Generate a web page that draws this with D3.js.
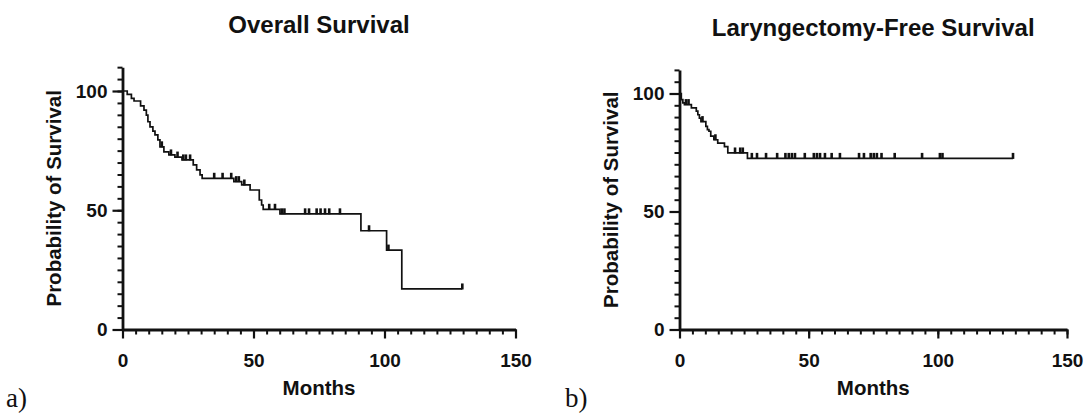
<!DOCTYPE html>
<html lang="en">
<head>
<meta charset="UTF-8">
<title>Overall and Laryngectomy-Free Survival</title>
<style>
  body { margin: 0; background: #fff; }
  svg text { font-family: 'Liberation Sans', Arial, sans-serif; font-weight: bold; fill: #111; }
  svg .tag { font-family: 'Liberation Serif', 'Times New Roman', serif; font-weight: normal; }
  .axis path, .axis line { stroke: #111; }
</style>
</head>
<body>
<svg id="chart" width="1088" height="413"></svg>
<script src="https://d3js.org/d3.v7.min.js"></script>
<script>
// Overall survival: months where the curve steps, % surviving after the step
const osTimes = [0, 1.8, 3.4, 4.4, 6.9, 8.2, 9.1, 9.7, 10.5, 11.6, 12.4, 13.5, 14.3, 15.8, 17.7, 20.0, 22.7,
                 27.0, 28.3, 29.6, 30.4, 42.5, 45.5, 48.7, 52.2, 53.1, 53.7, 60.1, 91.0, 100.8, 106.6];
const osSurv  = [100, 98.6, 96.9, 95.8, 93.8, 92.0, 89.9, 87.1, 85.0, 83.2, 81.6, 79.5, 76.6, 74.5, 73.2, 72.3, 71.1,
                 69.0, 66.9, 64.8, 63.4, 62.0, 60.6, 58.5, 54.3, 52.2, 50.4, 48.5, 41.4, 33.3, 17.0];
const osCensored = [15.0, 18.5, 21.0, 23.2, 24.2, 25.8, 35.0, 38.2, 41.5, 43.4, 44.4, 46.5, 56.0, 58.2, 60.8, 61.8,
                    69.7, 71.2, 74.1, 75.6, 77.3, 78.9, 83.0, 94.1, 101.5, 129.7];

// Laryngectomy-free survival
const lfsTimes = [0, 0.7, 1.3, 1.9, 4.6, 6.5, 7.1, 7.7, 8.3, 10.2, 10.8, 11.4, 12.1, 13.3, 14.8, 17.4, 18.7, 26.3];
const lfsSurv  = [100, 97.4, 96.0, 95.3, 93.9, 92.5, 91.0, 89.6, 88.1, 86.1, 84.7, 84.0, 81.9, 80.4, 79.0, 77.5, 74.8, 72.5];
const lfsCensored = [2.5, 3.5, 8.9, 13.9, 21.5, 23.5, 24.5, 28.0, 30.0, 33.5, 37.8, 41.0, 42.3, 43.5, 44.7, 48.5,
                     52.0, 53.2, 54.4, 56.3, 58.9, 62.1, 69.5, 71.4, 74.0, 75.2, 76.4, 78.2, 83.3, 93.9, 100.8, 101.8, 129.1];

const titles = ["Overall Survival", "Laryngectomy-Free Survival"];
const tags = ["a)", "b)"];
const xMajor = [0, 50, 100, 150];
const yMajor = [0, 50, 100];

const svg = d3.select("#chart");

const panels = [
  { times: osTimes, surv: osSurv, censored: osCensored, left: 122.5, right: 515.5, bottom: 329.5, top100: 91, titleY: 33, tagX: 6 },
  { times: lfsTimes, surv: lfsSurv, censored: lfsCensored, left: 679.5, right: 1067, bottom: 329.5, top100: 93.5, titleY: 36, tagX: 565 }
];

// survival level in effect at time t
function survAt(times, surv, t) {
  let s = surv[0];
  for (let i = 0; i < times.length; i++) {
    if (times[i] <= t) s = surv[i];
  }
  return s;
}

panels.forEach((p, idx) => {
  const x = d3.scaleLinear().domain([0, 150]).range([p.left, p.right]);
  const top110 = p.bottom - (p.bottom - p.top100) * 1.1;
  const y = d3.scaleLinear().domain([0, 110]).range([p.bottom, top110]);

  const g = svg.append("g");

  // minor ticks every 5
  g.append("g")
    .attr("class", "axis")
    .attr("transform", `translate(0,${p.bottom})`)
    .call(d3.axisBottom(x).tickValues(d3.range(0, 151, 5)).tickSize(5).tickSizeOuter(0).tickFormat(""))
    .call(a => a.select(".domain").remove())
    .selectAll("line").attr("stroke-width", 2);

  g.append("g")
    .attr("class", "axis")
    .attr("transform", `translate(${p.left},0)`)
    .call(d3.axisLeft(y).tickValues(d3.range(0, 111, 5)).tickSize(5).tickSizeOuter(0).tickFormat(""))
    .call(a => a.select(".domain").remove())
    .selectAll("line").attr("stroke-width", 2);

  // major ticks + labels
  const xa = g.append("g")
    .attr("class", "axis")
    .attr("transform", `translate(0,${p.bottom})`)
    .call(d3.axisBottom(x).tickValues(xMajor).tickSize(9).tickSizeOuter(0).tickPadding(15));
  xa.select(".domain").attr("stroke-width", 2.8);
  xa.selectAll("line").attr("stroke-width", 2.2);
  xa.selectAll("text").style("font-size", "19px");

  const ya = g.append("g")
    .attr("class", "axis")
    .attr("transform", `translate(${p.left},0)`)
    .call(d3.axisLeft(y).tickValues(yMajor).tickSize(10).tickSizeOuter(0).tickPadding(5));
  ya.select(".domain").attr("stroke-width", 2.8);
  ya.selectAll("line").attr("stroke-width", 2.2);
  ya.selectAll("text").style("font-size", "19px");

  // Kaplan-Meier step curve
  const pts = p.times.map((t, i) => [t, p.surv[i]]);
  const end = d3.max(p.censored);
  pts.push([end, p.surv[p.surv.length - 1]]);
  g.append("path")
    .datum(pts)
    .attr("fill", "none")
    .attr("stroke", "#111")
    .attr("stroke-width", 1.7)
    .attr("d", d3.line().x(d => x(d[0])).y(d => y(d[1])).curve(d3.curveStepAfter));

  // censor marks
  g.append("g")
    .selectAll("rect")
    .data(p.censored)
    .join("rect")
    .attr("x", d => x(d) - 1.3)
    .attr("y", d => y(survAt(p.times, p.surv, d)) - 5.5)
    .attr("width", 2.6)
    .attr("height", 6)
    .attr("fill", "#111");

  // texts
  const cx = (p.left + p.right) / 2;
  g.append("text")
    .attr("x", cx).attr("y", p.titleY)
    .attr("text-anchor", "middle")
    .style("font-size", "24px")
    .text(titles[idx]);

  g.append("text")
    .attr("x", cx).attr("y", 395)
    .attr("text-anchor", "middle")
    .style("font-size", "20.5px")
    .text("Months");

  g.append("text")
    .attr("transform", `translate(${p.left - 61.5},${(p.bottom + top110) / 2}) rotate(-90)`)
    .attr("text-anchor", "middle")
    .style("font-size", "20.5px")
    .text("Probability of Survival");

  g.append("text")
    .attr("class", "tag")
    .attr("x", p.tagX).attr("y", 407)
    .style("font-size", "27px")
    .text(tags[idx]);
});
</script>
</body>
</html>
